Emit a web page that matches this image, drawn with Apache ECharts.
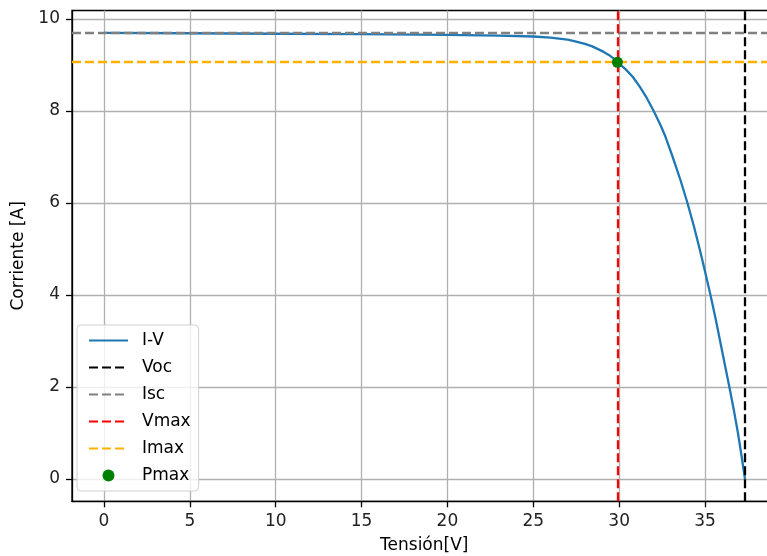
<!DOCTYPE html>
<html>
<head>
<meta charset="utf-8">
<script src="https://cdn.jsdelivr.net/npm/echarts@6/dist/echarts.min.js"></script>
<style>
html,body{margin:0;padding:0;background:#fff;}
#chart{width:767px;height:556px;}
</style>
</head>
<body>
<div id="chart"></div>
<script>
// I-V curve
const VOLTAGE = [0, 5, 10, 15, 20, 23, 25, 26, 26.5, 27, 27.5, 28, 28.4, 28.8, 29.1, 29.4, 29.65, 29.9, 30.15, 30.4, 30.8, 31.2, 31.6, 32.0, 32.4, 32.7, 33.12, 33.57, 33.98, 34.35, 34.69, 35.01, 35.32, 35.61, 35.88, 36.15, 36.42, 36.68, 36.92, 37.13, 37.33];
const CURRENT = [9.70, 9.69, 9.68, 9.67, 9.655, 9.64, 9.62, 9.595, 9.575, 9.55, 9.51, 9.46, 9.41, 9.34, 9.285, 9.22, 9.15, 9.06, 8.98, 8.90, 8.74, 8.53, 8.29, 8.01, 7.70, 7.44, 7.0, 6.5, 6.0, 5.5, 5.0, 4.5, 4.0, 3.5, 3.0, 2.5, 2.0, 1.5, 1.0, 0.5, 0];
const VOC = 37.33;
const ISC = 9.70;
const VMAX = 29.9;
const IMAX = 9.06;
const X_TICKS = [0, 5, 10, 15, 20, 25, 30, 35];
const Y_TICKS = [0, 2, 4, 6, 8, 10];
const X_RANGE = [-1.865, 39.165];
const Y_RANGE = [-0.485, 10.185];
const LEGEND_NAMES = ['I-V', 'Voc', 'Isc', 'Vmax', 'Imax', 'Pmax'];

const FONT = 'DejaVu Sans';
const LW = 2.3;
const DASH = [9, 4];

const curve = VOLTAGE.map((v, i) => [v, CURRENT[i]]);

function refLine(name, color, axisKey, value) {
  const ls = { color: color, width: LW, type: DASH };
  return {
    name: name, type: 'line', data: [], symbol: 'none', showSymbol: false,
    itemStyle: { color: color }, lineStyle: ls,
    markLine: {
      silent: true, symbol: ['none', 'none'], animation: false,
      label: { show: false }, emphasis: { disabled: true },
      lineStyle: ls,
      data: [{ [axisKey]: value }]
    }
  };
}

const chart = echarts.init(document.getElementById('chart'), null, { renderer: 'canvas' });
chart.setOption({
  animation: false,
  backgroundColor: '#fff',
  grid: {
    left: 72, top: 10.5, width: 704.5, height: 490.8,
    outerBoundsMode: 'none', containLabel: false,
    show: true, borderColor: '#000', borderWidth: 1.3, backgroundColor: 'transparent'
  },
  xAxis: {
    type: 'value', min: X_RANGE[0], max: X_RANGE[1],
    name: 'Tensión[V]', nameLocation: 'middle', nameGap: 36,
    nameTextStyle: { fontFamily: FONT, fontSize: 17, color: '#000' },
    axisLine: { show: true, onZero: false, lineStyle: { color: '#000', width: 1.3 } },
    axisTick: { show: true, length: 6, customValues: X_TICKS, lineStyle: { color: '#000', width: 1.3 } },
    axisLabel: { customValues: X_TICKS, margin: 12, fontFamily: FONT, fontSize: 17, color: '#222' },
    splitLine: { show: true, lineStyle: { color: '#b0b0b0', width: 1.3 } }
  },
  yAxis: {
    type: 'value', min: Y_RANGE[0], max: Y_RANGE[1],
    name: 'Corriente [A]', nameLocation: 'middle', nameGap: 43,
    nameTextStyle: { fontFamily: FONT, fontSize: 17, color: '#000' },
    axisLine: { show: true, onZero: false, lineStyle: { color: '#000', width: 1.3 } },
    axisTick: { show: true, length: 6, customValues: Y_TICKS, lineStyle: { color: '#000', width: 1.3 } },
    axisLabel: { customValues: Y_TICKS, margin: 12, fontFamily: FONT, fontSize: 17, color: '#222' },
    splitLine: { show: true, lineStyle: { color: '#b0b0b0', width: 1.3 } }
  },
  legend: {
    orient: 'vertical', left: 77, top: 325,
    padding: [7, 8, 7, 11],
    itemWidth: 39, itemHeight: 12, itemGap: 10,
    backgroundColor: 'rgba(255,255,255,0.8)',
    borderColor: '#d0d0d0', borderWidth: 1, borderRadius: 4,
    textStyle: { fontFamily: FONT, fontSize: 17, color: '#000', lineHeight: 17, padding: [0, 0, 0, 9] },
    data: LEGEND_NAMES.map(n => n === 'Pmax'
      ? { name: n, icon: 'circle' }
      : { name: n, itemStyle: { opacity: 0 } })
  },
  series: [
    {
      name: 'I-V', type: 'line', data: curve, symbol: 'none', showSymbol: false,
      smooth: false,
      itemStyle: { color: '#1f77b4' },
      lineStyle: { color: '#1f77b4', width: LW, join: 'round' }
    },
    refLine('Voc', '#000000', 'xAxis', VOC),
    refLine('Isc', '#808080', 'yAxis', ISC),
    refLine('Vmax', '#ff0000', 'xAxis', VMAX),
    refLine('Imax', '#ffb000', 'yAxis', IMAX),
    {
      name: 'Pmax', type: 'scatter', z: 10, symbol: 'circle', symbolSize: 11,
      data: [[VMAX, IMAX]],
      itemStyle: { color: '#008000', opacity: 1 }
    }
  ]
});
</script>
</body>
</html>
